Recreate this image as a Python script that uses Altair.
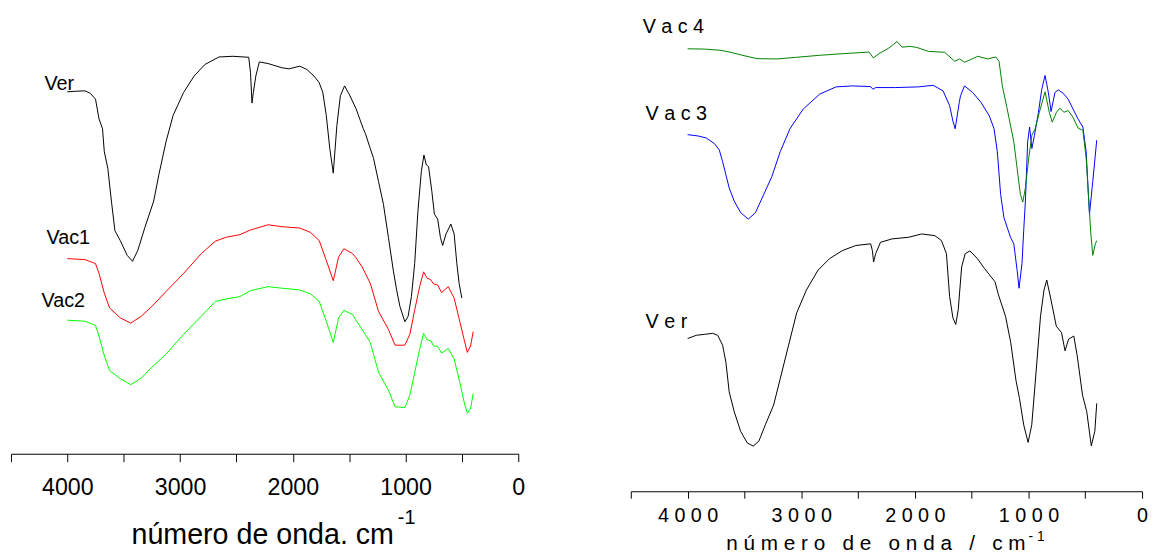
import altair as alt
import pandas as pd

NBSP = "\u00a0"
FONT = "Liberation Sans"

# ---------------- Left panel data (wavenumber, transmittance a.u.) ----------------
L_VER_WN = [4000, 3922, 3844, 3797, 3750, 3719, 3688, 3672, 3641, 3609, 3578, 3531, 3469, 3422, 3375,
            3312, 3234, 3188, 3125, 3062, 2969, 2875, 2781, 2656, 2531, 2391, 2375, 2362, 2350, 2328,
            2297, 2219, 2094, 2031, 1938, 1875, 1812, 1766, 1734, 1703, 1672, 1641, 1609, 1578, 1541,
            1500, 1438, 1375, 1356, 1313, 1284, 1240, 1196, 1152, 1109, 1079, 1050, 1006, 977, 948,
            919, 890, 860, 837, 816, 796, 767, 744, 715, 691, 671, 641, 598, 569, 545, 525, 501]
L_VER_T = [366.7, 367.3, 367.7, 365.3, 359.3, 339.3, 329.3, 306.0, 289.3, 256.0, 226.0, 216.0, 201.0, 195.0, 206.0,
           229.3, 256.0, 282.7, 316.0, 342.7, 366.0, 382.7, 394.3, 402.0, 402.7, 401.7, 386.0, 355.3, 366.0, 382.7,
           397.0, 395.3, 391.0, 390.0, 392.7, 389.3, 382.7, 376.0, 366.0, 342.7, 309.3, 284.3, 332.7, 362.7, 372.7,
           364.3, 349.3, 329.3, 324.3, 309.3, 299.3, 276.0, 252.7, 219.3, 186.0, 166.0, 149.3, 133.7, 139.3, 159.3,
           192.7, 246.0, 286.0, 302.7, 292.7, 291.0, 266.0, 242.7, 237.7, 219.3, 211.0, 222.7, 232.7, 222.7, 192.7,
           172.7, 157.7]

L_VAC1_WN = [4000, 3844, 3750, 3719, 3672, 3625, 3531, 3438, 3344, 3250, 3125, 2969, 2812, 2688, 2594,
             2469, 2375, 2219, 2094, 1938, 1844, 1766, 1703, 1641, 1594, 1547, 1469, 1444, 1385, 1313,
             1240, 1152, 1093, 1006, 962, 918, 875, 840, 808, 779, 752, 715, 680, 621, 569, 516, 481,
             452, 423, 400]
L_VAC1_T = [197.7, 196.7, 192.7, 182.7, 162.7, 147.7, 137.7, 132.3, 139.3, 149.3, 164.3, 182.7, 202.7, 215.3, 219.3,
            222.0, 226.7, 232.0, 230.0, 228.7, 224.3, 216.0, 196.0, 175.3, 199.3, 207.7, 202.7, 199.3, 189.3, 172.7,
            144.3, 126.0, 110.0, 110.0, 121.0, 146.0, 169.3, 184.3, 177.7, 176.7, 172.0, 171.0, 163.3, 169.3, 157.7,
            132.7, 116.0, 102.7, 109.3, 123.7]

L_VAC2_WN = [4000, 3844, 3750, 3719, 3672, 3625, 3531, 3438, 3344, 3250, 3125, 2969, 2812, 2688, 2594,
             2469, 2375, 2219, 2094, 1938, 1844, 1766, 1703, 1641, 1594, 1547, 1469, 1444, 1385, 1313,
             1240, 1152, 1093, 1006, 962, 918, 875, 840, 808, 773, 752, 715, 680, 621, 569, 516, 481,
             452, 423, 400]
L_VAC2_T = [135.3, 134.3, 130.0, 119.3, 99.3, 84.3, 76.0, 70.0, 76.7, 87.7, 101.0, 121.0, 139.3, 154.3, 156.7,
            159.3, 165.3, 169.3, 167.7, 166.0, 162.0, 154.3, 134.3, 112.7, 137.7, 145.3, 141.0, 136.0, 126.0, 112.7,
            82.7, 64.3, 47.7, 46.7, 59.3, 82.7, 106.0, 122.0, 115.3, 114.3, 109.3, 108.7, 102.0, 106.7, 96.0,
            71.0, 52.7, 41.0, 46.0, 61.0]

# ---------------- Right panel data ----------------
R_VER_WN = [4000, 3924, 3851, 3779, 3735, 3692, 3663, 3634, 3590, 3533, 3475, 3423, 3373, 3316, 3243,
            3185, 3113, 3040, 2954, 2852, 2751, 2635, 2519, 2389, 2374, 2363, 2345, 2302, 2200, 2056,
            1940, 1824, 1766, 1722, 1694, 1665, 1640, 1618, 1588, 1557, 1515, 1449, 1387, 1295, 1264,
            1202, 1156, 1110, 1079, 1042, 1003, 971, 940, 894, 863, 839, 802, 755, 709, 678, 647,
            601, 571, 524, 487, 447, 416, 399]
R_VER_T = [134.7, 138.0, 139.0, 140.0, 138.0, 128.0, 110.7, 80.7, 60.7, 40.7, 29.0, 25.7, 30.7, 47.3, 67.3,
           94.0, 127.3, 160.7, 184.0, 204.0, 215.7, 224.0, 229.0, 230.7, 224.0, 212.3, 220.7, 232.3, 235.7, 237.3,
           240.7, 239.0, 234.0, 220.7, 177.3, 155.7, 149.0, 164.0, 207.3, 220.7, 223.5, 215.7, 205.7, 192.3, 179.0,
           157.3, 130.7, 92.3, 74.0, 47.3, 29.5, 47.3, 90.7, 157.3, 184.0, 194.0, 174.0, 147.3, 140.7, 122.3, 134.0,
           137.3, 117.3, 77.3, 60.7, 26.0, 40.7, 69.0]

R_VAC3_WN = [4000, 3909, 3837, 3764, 3721, 3692, 3663, 3634, 3590, 3533, 3466, 3403, 3330, 3258, 3185,
             3099, 2982, 2838, 2693, 2548, 2389, 2369, 2345, 2172, 1969, 1839, 1752, 1694, 1665, 1645,
             1609, 1598, 1563, 1491, 1418, 1346, 1303, 1274, 1245, 1216, 1158, 1129, 1100, 1083, 1057,
             1042, 1027, 1007, 990, 970, 947, 912, 883, 854, 825, 801, 767, 738, 695, 651, 608, 564,
             521, 492, 477, 463, 434, 399]
R_VAC3_T = [341.3, 340.0, 338.0, 332.3, 325.7, 314.0, 300.7, 287.3, 274.0, 262.3, 255.7, 262.3, 280.7, 299.0, 324.0,
            347.3, 367.3, 382.3, 389.7, 390.7, 390.0, 387.3, 389.0, 389.0, 389.7, 391.3, 385.7, 370.7, 355.0, 347.3,
            374.0, 380.7, 390.7, 384.0, 374.0, 360.7, 347.3, 324.0, 280.7, 257.3, 237.3, 230.7, 204.0, 185.7, 210.7,
            244.0, 274.0, 334.0, 349.0, 327.3, 340.7, 364.0, 387.3, 401.3, 384.0, 364.7, 384.0, 386.7, 383.3, 377.3,
            367.3, 357.3, 349.0, 324.0, 290.7, 260.7, 294.0, 335.7]

R_VAC4_WN = [4000, 3851, 3706, 3619, 3503, 3388, 3214, 3041, 2838, 2635, 2403, 2365, 2316, 2229, 2157,
             2113, 2041, 1983, 1882, 1737, 1665, 1650, 1607, 1563, 1520, 1447, 1360, 1288, 1259, 1230,
             1187, 1129, 1100, 1071, 1050, 1027, 998, 970, 941, 904, 854, 817, 791, 753, 724, 687, 651,
             608, 564, 521, 492, 469, 451, 434, 411, 399]
R_VAC4_T = [428.3, 428.0, 426.7, 424.7, 421.3, 418.3, 418.0, 419.7, 421.7, 423.3, 425.0, 419.0, 423.3, 429.0, 435.7,
            430.0, 430.7, 429.7, 425.7, 424.7, 417.3, 415.7, 418.0, 414.7, 416.7, 420.7, 418.0, 420.0, 415.7, 390.7,
            367.3, 334.0, 307.3, 280.7, 273.0, 287.3, 317.3, 340.7, 347.3, 364.0, 384.7, 364.0, 354.0, 364.0, 368.0,
            364.0, 365.7, 359.0, 348.0, 345.7, 317.3, 274.0, 240.7, 219.0, 230.7, 234.0]

TICKS = list(range(0, 4501, 500))


def frame(pairs):
    rows = []
    for name, wn, t in pairs:
        for a, b in zip(wn, t):
            rows.append({"series": name, "wn": a, "T": b})
    return pd.DataFrame(rows)


def text_layer(txt, x, y, size, align="left"):
    return alt.Chart(pd.DataFrame({"t": [txt]})).mark_text(
        align=align, baseline="alphabetic", font=FONT, fontSize=size, color="black"
    ).encode(x=alt.value(x), y=alt.value(y), text="t:N")


def spaced(s, sep=NBSP):
    return sep.join(list(s))


# ---------------- Left panel ----------------
LW, LH = 514, 448
left_df = frame([("Ver", L_VER_WN, L_VER_T), ("Vac1", L_VAC1_WN, L_VAC1_T), ("Vac2", L_VAC2_WN, L_VAC2_T)])
left_lines = alt.Chart(left_df).mark_line(strokeWidth=1).encode(
    x=alt.X("wn:Q", scale=alt.Scale(domain=[4500, 0], nice=False, zero=False),
            axis=alt.Axis(values=TICKS, format="d", title=None, grid=False,
                          labelExpr="datum.value % 1000 == 0 && datum.value < 4500 ? datum.label : ''",
                          tickSize=8, tickColor="black", domainColor="black", labelColor="black",
                          labelFont=FONT, labelFontSize=23.5, labelPadding=14, labelOverlap=False,
                          labelFlush=False)),
    y=alt.Y("T:Q", scale=alt.Scale(domain=[0, LH], nice=False, zero=False), axis=None),
    color=alt.Color("series:N", scale=alt.Scale(domain=["Ver", "Vac1", "Vac2"],
                                                range=["#000000", "#ff0000", "#00ff00"]), legend=None),
    detail="series:N",
)
left = alt.layer(
    left_lines,
    text_layer("Ver", 34, 79, 20),
    text_layer("Vac1", 36, 235, 20),
    text_layer("Vac2", 31, 299, 20),
    text_layer("número de onda. cm", 388, 539, 29, align="right"),
    text_layer("-1", 392, 519, 20),
).properties(width=LW, height=LH)

# ---------------- Right panel ----------------
RW, RH = 518, 486
right_df = frame([("Ver ", R_VER_WN, R_VER_T), ("Vac3", R_VAC3_WN, R_VAC3_T), ("Vac4", R_VAC4_WN, R_VAC4_T)])
right_lines = alt.Chart(right_df).mark_line(strokeWidth=1).encode(
    x=alt.X("wn:Q", scale=alt.Scale(domain=[4500, 0], nice=False, zero=False),
            axis=alt.Axis(values=TICKS, format="d", title=None, grid=False,
                          labelExpr="datum.value % 1000 == 0 && datum.value < 4500 ? join(split(datum.label, ''), '\u00a0') : ''",
                          tickSize=7, tickColor="black", domainColor="black", labelColor="black",
                          labelFont=FONT, labelFontSize=20, labelPadding=8, labelOverlap=False,
                          labelFlush=False)),
    y=alt.Y("T:Q", scale=alt.Scale(domain=[-20, 466], nice=False, zero=False), axis=None),
    color=alt.Color("series:N", scale=alt.Scale(domain=["Ver ", "Vac3", "Vac4"],
                                                range=["#000000", "#0000ff", "#008000"]), legend=None),
    detail="series:N",
)
title_r = (NBSP * 3).join([spaced("número"), spaced("de"), spaced("onda"), "/", spaced("cm")])
right = alt.layer(
    right_lines,
    text_layer(spaced("Vac4"), 12, 22, 20),
    text_layer(spaced("Vac3"), 15, 110, 20),
    text_layer(spaced("Ver"), 15, 321, 20),
    text_layer(title_r, 400, 546, 21, align="right"),
    text_layer("-" + NBSP + "1", 403, 536, 14),
).properties(width=RW, height=RH)

chart = alt.hconcat(left, right, spacing=114, bounds="flush").resolve_scale(
    color="independent", x="independent", y="independent"
).properties(
    padding={"left": 2, "top": 0, "right": 0, "bottom": 0}
).configure_view(stroke=None).configure_axis(domainWidth=1, tickWidth=1)

chart.save("out.html", embed_options={"renderer": "svg", "actions": False})
